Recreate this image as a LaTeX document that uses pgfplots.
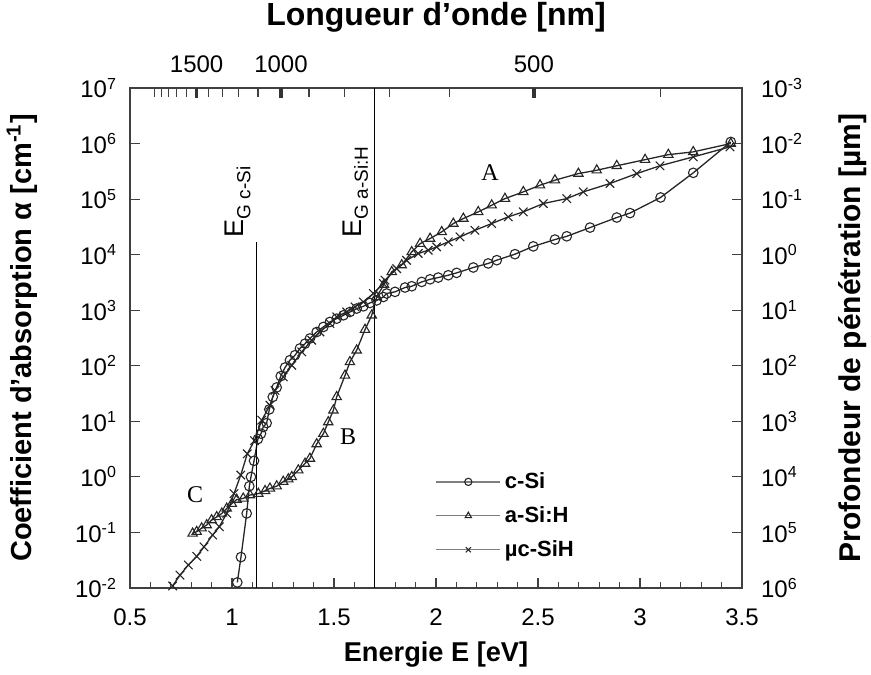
\documentclass[border=0pt]{standalone}
\usepackage{fontspec}
\setmainfont{Liberation Sans}
\newfontfamily\serifA{Liberation Serif}
\usepackage{pgfplots}
\pgfplotsset{compat=1.18}
\begin{document}
\begin{tikzpicture}
\begin{axis}[name=ax, scale only axis, width=306pt, height=250pt,
  xmin=0.5, xmax=3.5, ymode=log, log basis y=10, ymin=1e-2, ymax=1e7,
  xtick={0.5,1,1.5,2,2.5,3,3.5}, minor x tick num=4,
  ytick={1e-2,1e-1,1,1e1,1e2,1e3,1e4,1e5,1e6,1e7}, yminorticks=false,
  tick align=inside, xtick pos=left, ytick pos=both,
  major tick length=5pt, minor tick length=3pt,
  tick style={black!75, line width=0.6pt},
  axis line style={black!75, line width=0.9pt},
  /pgf/number format/assume math mode=true,
  ticklabel style={font=\fontsize{12}{14}\selectfont},
  xticklabel style={yshift=-7pt},
  yticklabel style={xshift=-3pt},
  yticklabel={10\textsuperscript{\pgfmathparse{int(round(\tick))}\pgfmathresult}},
  xlabel={\textbf{Energie E [eV]}},
  ylabel={\textbf{Coefficient d’absorption α [cm\textsuperscript{-1}]}},
  xlabel style={font=\fontsize{13.6}{15}\selectfont, at={(axis description cs:0.5,-0.134)}, anchor=center},
  ylabel style={font=\fontsize{14.5}{16}\selectfont, at={(axis description cs:-0.1765,0.5)}, anchor=center},
  legend style={at={(axis description cs:0.489,0.248)}, anchor=north west, draw=none, fill=none,
    font=\fontsize{11}{13}\selectfont\bfseries, row sep=3.5pt},
  legend cell align=left,
  legend image code/.code={
    \draw[#1, draw=gray, mark=none] (0pt,0pt) -- (32pt,0pt);
    \draw[#1, only marks, mark size=1.8pt] plot coordinates {(16pt,0pt)};
  },
  every axis plot/.append style={black!85, line width=0.65pt, mark options={solid, line width=0.55pt, black!85}},
]
\addplot[mark=o, mark size=2.4pt] coordinates {
(1.026,0.0126)(1.044,0.036)(1.072,0.22)(1.085,0.68)(1.093,1.0)(1.108,1.95)(1.127,4.8)(1.142,6.0)(1.153,7.9)(1.17,9.3)(1.183,16.4)(1.2,27.5)(1.219,40.7)(1.239,65)(1.26,93)(1.284,126)(1.309,155)(1.333,205)(1.358,250)(1.382,310)(1.415,405)(1.448,500)(1.48,615)(1.513,705)(1.546,810)(1.578,930)(1.611,1070)(1.644,1175)(1.676,1350)(1.709,1500)(1.742,1730)(1.758,2000)(1.799,2140)(1.848,2560)(1.881,2700)(1.93,3230)(1.971,3600)(2.011,3870)(2.06,4260)(2.101,4700)(2.183,5870)(2.256,6950)(2.298,7960)(2.387,10200)(2.477,14100)(2.583,18700)(2.641,21400)(2.755,30700)(2.886,46600)(2.951,56000)(3.101,107000)(3.261,297000)(3.445,1.07e6)
};
\addlegendentry{c-Si}
\addplot[mark=triangle, mark size=2.7pt] coordinates {
(0.807,0.096)(0.827,0.103)(0.851,0.119)(0.876,0.136)(0.9,0.167)(0.925,0.19)(0.95,0.22)(0.974,0.27)(0.999,0.33)(1.023,0.39)(1.055,0.41)(1.088,0.47)(1.129,0.50)(1.162,0.56)(1.186,0.62)(1.219,0.68)(1.251,0.82)(1.276,0.91)(1.293,1.0)(1.325,1.32)(1.358,1.74)(1.382,2.14)(1.415,3.9)(1.448,6.0)(1.472,9.7)(1.497,15.8)(1.513,27.5)(1.554,67)(1.578,117)(1.611,190)(1.652,447)(1.685,810)(1.709,1740)(1.745,2900)(1.783,4900)(1.832,6500)(1.881,11200)(1.922,15800)(1.971,19500)(2.028,25700)(2.085,36300)(2.134,44700)(2.207,58900)(2.273,77600)(2.338,102000)(2.428,135000)(2.51,178000)(2.583,219000)(2.698,288000)(2.788,331000)(2.886,398000)(3.025,513000)(3.139,631000)(3.261,708000)(3.445,1e6)
};
\addlegendentry{a-Si:H}
\addplot[mark=x, mark size=3pt] coordinates {
(0.709,0.0109)(0.745,0.017)(0.786,0.026)(0.827,0.037)(0.863,0.055)(0.905,0.090)(0.938,0.127)(0.974,0.22)(1.01,0.50)(1.043,1.08)(1.075,2.6)(1.11,4.5)(1.146,10.5)(1.186,19.5)(1.211,36)(1.251,63)(1.293,102)(1.342,178)(1.391,288)(1.431,407)(1.48,575)(1.513,760)(1.562,933)(1.603,1150)(1.644,1410)(1.693,2000)(1.742,3020)(1.75,3470)(1.807,5600)(1.856,7900)(1.913,10500)(1.962,12000)(2.003,13800)(2.06,17000)(2.118,20900)(2.191,27500)(2.273,36300)(2.354,47900)(2.428,58900)(2.526,83200)(2.641,102000)(2.722,135000)(2.853,191000)(2.984,288000)(3.098,398000)(3.261,575000)(3.441,871000)
};
\addlegendentry{µc-SiH}
\addplot[black, line width=0.6pt, mark=none, forget plot] coordinates {(1.12,0.01)(1.12,1.7e4)};
\addplot[black, line width=0.6pt, mark=none, forget plot] coordinates {(1.7,0.01)(1.7,1e7)};
\node[rotate=90, anchor=west, inner sep=0pt] at (axis cs:1.029,2.0e4) {\fontsize{13.5}{13}\selectfont E\raisebox{-0.45ex}{\fontsize{9.5}{10}\selectfont G c-Si}};
\node[rotate=90, anchor=west, inner sep=0pt] at (axis cs:1.605,2.0e4) {\fontsize{13.5}{13}\selectfont E\raisebox{-0.45ex}{\fontsize{9.5}{10}\selectfont G a-Si:H}};
\node[font=\serifA\fontsize{12}{12}\selectfont] at (axis cs:2.265,3e5) {A};
\node[font=\serifA\fontsize{12}{12}\selectfont] at (axis cs:1.569,5.2) {B};
\node[font=\serifA\fontsize{12}{12}\selectfont] at (axis cs:0.819,0.47) {C};
\end{axis}
\begin{axis}[scale only axis, width=306pt, height=250pt,
  xmin=0.5, xmax=3.5, ymode=log, log basis y=10, ymin=1e-3, ymax=1e6, y dir=reverse,
  axis line style={draw=none},
  tick align=inside, xtick pos=right, ytick pos=right,
  xticklabel pos=right, yticklabel pos=right,
  xtick={0.82667,1.24,2.48}, xticklabels={1500,1000,500},
  minor xtick={0.62,0.65263,0.68889,0.72941,0.775,0.88571,0.95385,1.03333,1.12727,1.37778,1.55,1.77143,2.06667,3.1},
  ytick={1e-3,1e-2,1e-1,1,1e1,1e2,1e3,1e4,1e5,1e6}, yminorticks=false,
  ytick style={draw=none},
  major tick length=5pt, minor tick length=4.5pt,
  every major tick/.append style={line width=1.8pt, black!80},
  every minor tick/.append style={line width=0.6pt, black!75},
  /pgf/number format/assume math mode=true,
  ticklabel style={font=\fontsize{12}{14}\selectfont},
  xticklabel style={yshift=4pt},
  yticklabel style={xshift=6pt},
  yticklabel={10\textsuperscript{\pgfmathparse{int(round(\tick))}\pgfmathresult}},
  xlabel={\textbf{Longueur d’onde [nm]}},
  ylabel={\textbf{Profondeur de pénétration [µm]}},
  xlabel style={font=\fontsize{16}{18}\selectfont, at={(axis description cs:0.5,1.142)}, anchor=center},
  ylabel style={font=\fontsize{15}{17}\selectfont, at={(axis description cs:1.18,0.5)}, anchor=center, rotate=0},
]
\addplot[draw=none, forget plot] coordinates {(1,1)(2,10)};
\end{axis}
\pgfresetboundingbox
\path ([shift={(-65pt,-43.5pt)}]ax.south west) rectangle ([shift={(64.5pt,44pt)}]ax.north east);
\end{tikzpicture}
\end{document}
